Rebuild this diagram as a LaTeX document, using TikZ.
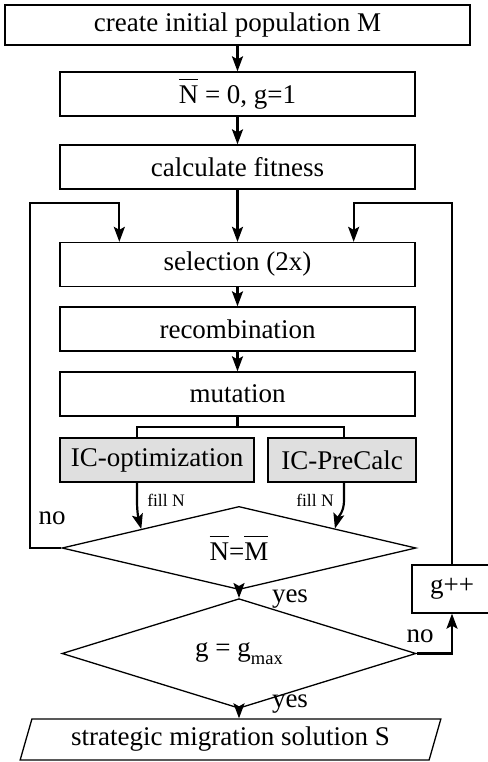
\documentclass[tikz,border=0pt]{standalone}
\usepackage{fontspec}
\setmainfont{Liberation Serif}
\usepackage{tikz}
\usetikzlibrary{positioning,shapes.geometric,arrows.meta,calc}

% letter with a raised bar over it
\newcommand*{\ovl}[1]{\setbox0\hbox{#1}\rlap{\rule[0.86em]{\wd0}{0.045em}}\box0}
% low subscript
\newcommand*{\lowsub}[1]{\raisebox{-0.3em}{\fontsize{18.5}{20}\selectfont #1}}

\begin{document}
\begin{tikzpicture}[x=1pt,y=-1pt,
		font=\fontsize{27}{30}\selectfont,
		stepbox/.style={draw, line width=1.3pt, minimum width=355pt, minimum height=44pt, inner sep=0pt},
		icbox/.style={stepbox, fill=gray!25},
		decision/.style={draw, diamond, line width=1.3pt, minimum width=354pt, minimum height=81pt, inner sep=0pt},
		flow/.style={line width=2.2pt, -{Stealth[length=15pt,width=11pt,inset=3pt]}},
		line/.style={line width=2.2pt},
		small/.style={font=\fontsize{17.5}{20}\selectfont}]
	\useasboundingbox (0,0) rectangle (487,762);
	% main column
	\node[stepbox, minimum width=465pt, minimum height=40pt] (init) at (237.5,25) {create initial population M};
	\node[stepbox] (zero) at (237.5,94) {\ovl{N}\ = 0, g=1};
	\node[stepbox] (fit) at (237.5,167) {calculate fitness};
	\node[stepbox] (sel) at (237.5,264.5) {selection (2x)};
	\node[stepbox] (rec) at (237.5,329) {recombination};
	\node[stepbox] (mut) at (237.5,394) {mutation};
	\node[icbox, minimum width=194pt] (ico) at (157,460) {IC-optimization};
	\node[icbox, minimum width=148pt] (icp) at (342,460) {IC-PreCalc};
	\node[decision] (test) at (239,548) {\ovl{N}=\ovl{M}};
	\node[decision] (check) at (239,653.5) {g = g\lowsub{max}};
	\node[draw, trapezium, trapezium left angle=69, trapezium right angle=111, trapezium stretches=true,
		line width=1.3pt, minimum width=421pt, minimum height=41pt, inner sep=0pt] (out) at (230.5,739.5) {strategic migration solution S};
	\node[stepbox, minimum width=80pt, minimum height=48pt] (inc) at (452,589) {g++};
	% labels
	\node[small] (fillL) at (166,500) {fill N};
	\node[small] (fillR) at (315,500) {fill N};
	\node (noL) at (52,518) {no};
	\node (noR) at (420,636) {no};
	\node (yesA) at (290,599) {yes};
	\node (yesB) at (290,704) {yes};
	% helper points
	\coordinate (forkL) at (137,427);
	\coordinate (forkR) at (344,427);
	\coordinate (loopL) at (30,203);
	\coordinate (loopR) at (452,203);

	\draw[flow] (init) -- (zero);
	\draw[flow] (zero) -- (fit);
	\draw[flow] (fit) -- (sel);
	\draw[flow] (sel) -- (rec);
	\draw[flow] (rec) -- (mut);
	\draw[line] (mut.south) -- (mut.south |- forkL);
	\draw[line] (forkL |- ico.north) -- (forkL) -- (forkR) -- (forkR |- icp.north);
	\draw[flow] (forkL |- ico.south) -- ++(0,18) to[out=-90,in=105] ($(test.west)!0.45!(test.north)$);
	\draw[flow] (forkR |- icp.south) -- ++(0,18) to[out=-90,in=75] ($(test.east)!0.46!(test.north)$);
	\draw[flow] (test.west) -| (loopL) -| ($(sel.north west)+(60,0)$);
	\draw[flow] (test) -- (check);
	\draw[flow] (check.east) -| (inc.south);
	\draw[flow] (inc.north) -- (loopR) -| ($(sel.north east)+(-62,0)$);
	\draw[flow] (check.south) -- (check.south |- out.north);
\end{tikzpicture}
\end{document}
